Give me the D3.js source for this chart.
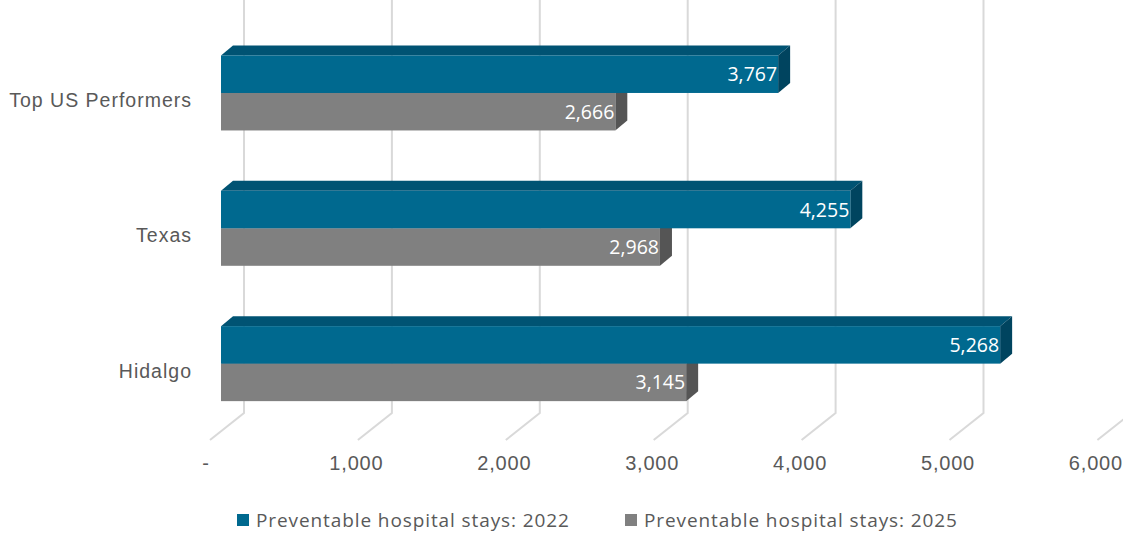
<!DOCTYPE html>
<html><head><meta charset="utf-8">
<script src="https://cdn.jsdelivr.net/npm/d3@7"></script>
<style>html,body{margin:0;padding:0;background:#fff;}svg{display:block;}</style>
</head><body>
<svg id="c" width="1123" height="535"></svg>
<script>
const categories = ["Top US Performers", "Texas", "Hidalgo"];
const series = ["Preventable hospital stays: 2022", "Preventable hospital stays: 2025"];
const values2022 = [3767, 4255, 5268];
const values2025 = [2666, 2968, 3145];
const xTicks = [0, 1000, 2000, 3000, 4000, 5000, 6000];
const tickLabels = ["-", "1,000", "2,000", "3,000", "4,000", "5,000", "6,000"];

const svg = d3.select("#c");
const fmt = d3.format(",");

// geometry
const x = d3.scaleLinear().domain([0, 6000]).range([0, 887.4]);
const y = d3.scaleBand().domain(categories).range([25.3, 431.3]).padding(0);
const frontX0 = 221;          // bar front face origin
const bd = {dx: 12, dy: -10}; // bar depth
const backX0 = 244, backFloor = 413;   // back wall
const floorX0 = 210, floorY = 440;     // floor front edge
const barH = 37.5;

const colors = [
  {front: "#00698f", top: "#005373", side: "#00445f"},
  {front: "#808080", top: "#6b6b6b", side: "#555555"}
];

// gridlines
const grid = svg.append("g");
xTicks.forEach(t => {
  const bx = backX0 + x(t), fx = floorX0 + x(t);
  grid.append("path")
    .attr("d", `M${bx},0 L${bx},${backFloor} L${fx},${floorY}`)
    .attr("fill", "none").attr("stroke", "#d9d9d9").attr("stroke-width", 2);
});

// tick labels
svg.append("g").selectAll("text").data(xTicks).join("text")
  .attr("x", (d, i) => floorX0 + x(d) - (i === 0 ? 4 : 1.5))
  .attr("y", 470)
  .attr("text-anchor", "middle")
  .attr("font-family", "'Liberation Sans', Arial, sans-serif")
  .attr("font-size", 20)
  .attr("letter-spacing", 0.8)
  .attr("fill", "#595959")
  .text((d, i) => tickLabels[i]);

// bars
function bar3d(g, xEnd, yTop, c) {
  const x0 = frontX0, yB = yTop + barH;
  g.append("path").attr("d",
    `M${x0},${yTop} L${x0 + bd.dx},${yTop + bd.dy} L${xEnd + bd.dx},${yTop + bd.dy} L${xEnd},${yTop} Z`)
    .attr("fill", c.top);
  g.append("path").attr("d",
    `M${xEnd},${yTop} L${xEnd + bd.dx},${yTop + bd.dy} L${xEnd + bd.dx},${yB + bd.dy} L${xEnd},${yB} Z`)
    .attr("fill", c.side);
  g.append("rect").attr("x", x0).attr("y", yTop).attr("width", xEnd - x0).attr("height", barH)
    .attr("fill", c.front);
}

const bars = svg.append("g");
categories.forEach((cat, i) => {
  const cy = y(cat) + y.bandwidth() / 2;
  const g = bars.append("g");
  const e25 = frontX0 + x(values2025[i]);
  const e22 = frontX0 + x(values2022[i]);
  bar3d(g, e25, cy, colors[1]);
  bar3d(g, e22, cy - barH, colors[0]);
  [[e22, cy - barH / 2, values2022[i]], [e25, cy + barH / 2, values2025[i]]].forEach(([xe, yc, v]) => {
    g.append("text").attr("x", xe - 1).attr("y", yc)
      .attr("dy", "0.36em")
      .attr("text-anchor", "end")
      .attr("font-family", "'Open Sans', 'Noto Sans', sans-serif")
      .attr("font-size", 19.5)
      .attr("fill", "#ffffff")
      .text(fmt(v));
  });
  svg.append("text").attr("x", 192).attr("y", cy + 14)
    .attr("text-anchor", "end")
    .attr("font-family", "'Liberation Sans', Arial, sans-serif")
    .attr("font-size", 19.5)
    .attr("letter-spacing", 1)
    .attr("fill", "#595959")
    .text(cat);
});

// legend
const legX = [237, 625];
const leg = svg.append("g");
series.forEach((s, i) => {
  leg.append("rect").attr("x", legX[i]).attr("y", 514).attr("width", 12).attr("height", 12)
    .attr("fill", colors[i].front);
  leg.append("text").attr("x", legX[i] + 19).attr("y", 527)
    .attr("font-family", "'Open Sans', 'Noto Sans', sans-serif")
    .attr("font-size", 19)
    .attr("letter-spacing", 0.9)
    .attr("fill", "#595959")
    .text(s);
});
</script>
</body></html>
